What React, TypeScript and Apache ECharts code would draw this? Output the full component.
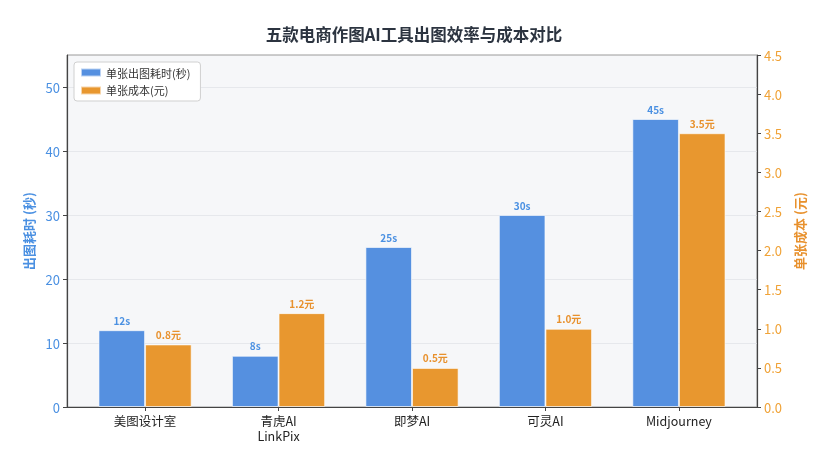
import React, { useEffect, useRef } from "react";
import * as echarts from "echarts";

const categories = ["美图设计室", "青虎AI\nLinkPix", "即梦AI", "可灵AI", "Midjourney"];
const timeSeconds = [12, 8, 25, 30, 45];
const costYuan = [0.8, 1.2, 0.5, 1.0, 3.5];
const leftTicks = [0, 10, 20, 30, 40, 50];
const rightTicks = [0, 0.5, 1, 1.5, 2, 2.5, 3, 3.5, 4, 4.5];
const catIndex = [0, 1, 2, 3, 4];

const FONT = "Noto Sans CJK SC";

export default function App() {
  const ref = useRef<HTMLDivElement>(null);
  useEffect(() => {
    if (!ref.current) return;
    const chart = echarts.init(ref.current, undefined, { renderer: "svg" });
    chart.setOption({
      animation: false,
      textStyle: { fontFamily: FONT },
      title: {
        text: "五款电商作图AI工具出图效率与成本对比",
        left: "center",
        top: 21,
        textStyle: { fontSize: 16.5, fontWeight: "bold", color: "#2c3440", fontFamily: FONT },
      },
      legend: {
        orient: "vertical",
        left: 74,
        top: 62,
        backgroundColor: "#ffffff",
        borderColor: "#d0d0d0",
        borderWidth: 1,
        borderRadius: 3,
        padding: [5, 10, 5, 6],
        itemWidth: 20,
        itemHeight: 8,
        itemGap: 7,
        icon: "rect",
        textStyle: { fontSize: 11, color: "#333", fontFamily: FONT },
        data: ["单张出图耗时(秒)", "单张成本(元)"],
      },
      grid: {
        left: 67,
        right: 71,
        top: 55,
        bottom: 43,
        show: true,
        backgroundColor: "#f6f7f9",
        borderColor: "#9a9a9a",
        borderWidth: 1,
      },
      xAxis: {
        type: "value",
        min: -0.585,
        max: 4.585,
        axisLine: { show: true, onZero: false, lineStyle: { color: "#444", width: 1.2 } },
        axisTick: { show: true, customValues: catIndex, length: 4, lineStyle: { color: "#444" } },
        axisLabel: {
          customValues: catIndex,
          formatter: (v: number) => categories[Math.round(v)] ?? "",
          fontSize: 12.5,
          color: "#222",
          lineHeight: 15,
          margin: 6,
          fontFamily: FONT,
        },
        splitLine: { show: false },
      },
      yAxis: [
        {
          type: "value",
          min: 0,
          max: 55,
          position: "left",
          name: "出图耗时 (秒)",
          nameLocation: "middle",
          nameRotate: 90,
          nameGap: 25,
          nameTextStyle: { color: "#4a90e2", fontSize: 13, fontWeight: "bold", fontFamily: FONT },
          axisLine: { show: true, onZero: false, lineStyle: { color: "#444", width: 1.2 } },
          axisTick: { show: true, customValues: leftTicks, length: 4, lineStyle: { color: "#444" } },
          axisLabel: { customValues: leftTicks, color: "#4a90e2", fontSize: 13, margin: 7, fontFamily: FONT },
          splitLine: { show: true, lineStyle: { color: "#e6e8ec", width: 1 } },
        },
        {
          type: "value",
          min: 0,
          max: 4.5,
          position: "right",
          name: "单张成本 (元)",
          nameLocation: "middle",
          nameRotate: 90,
          nameGap: 22,
          nameTextStyle: { color: "#e8912d", fontSize: 13, fontWeight: "bold", fontFamily: FONT },
          axisLine: { show: true, onZero: false, lineStyle: { color: "#444", width: 1.2 } },
          axisTick: { show: true, customValues: rightTicks, length: 4, lineStyle: { color: "#444" } },
          axisLabel: {
            customValues: rightTicks,
            formatter: (v: number) => v.toFixed(1),
            color: "#f0a236",
            fontSize: 13,
            margin: 7,
            fontFamily: FONT,
          },
          splitLine: { show: false },
        },
      ],
      series: [
        {
          name: "单张出图耗时(秒)",
          type: "bar",
          yAxisIndex: 0,
          barWidth: 46.6,
          barGap: "0%",
          data: timeSeconds.map((v, i) => [i, v]),
          itemStyle: { color: "#5590e0", borderColor: "rgba(255,255,255,0.6)", borderWidth: 1 },
          label: {
            show: true,
            position: "top",
            distance: 5,
            formatter: (p: any) => `${p.value[1]}s`,
            color: "#4a90e2",
            fontSize: 10,
            fontWeight: "bold",
            fontFamily: FONT,
          },
        },
        {
          name: "单张成本(元)",
          type: "bar",
          yAxisIndex: 1,
          barWidth: 46.6,
          barGap: "0%",
          data: costYuan.map((v, i) => [i, v]),
          itemStyle: { color: "#e8972f", borderColor: "rgba(255,255,255,0.6)", borderWidth: 1 },
          label: {
            show: true,
            position: "top",
            distance: 5,
            formatter: (p: any) => `${Number(p.value[1]).toFixed(1)}元`,
            color: "#e8912d",
            fontSize: 10,
            fontWeight: "bold",
            fontFamily: FONT,
          },
        },
      ],
    });
    return () => chart.dispose();
  }, []);
  return <div ref={ref} style={{ position: "fixed", left: 0, top: 0, width: 828, height: 450 }} />;
}
